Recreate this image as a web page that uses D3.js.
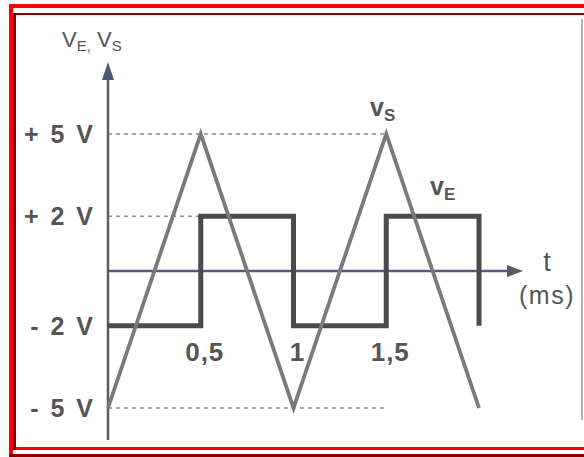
<!DOCTYPE html>
<html>
<head>
<meta charset="utf-8">
<script src="https://cdn.jsdelivr.net/npm/d3@7"></script>
<style>
  body { margin:0; background:#fff; }
  text { font-family: "Liberation Sans", Arial, sans-serif; fill:#555; }
</style>
</head>
<body>
<div id="chart"></div>
<script>
// time in ms, volts
var tVs = [0, 0.5, 1, 1.5, 2];
var vs  = [-5, 5, -5, 5, -5];
var tVe = [0, 0.5, 0.5, 1, 1, 1.5, 1.5, 2, 2];
var ve  = [-2, -2, 2, 2, -2, -2, 2, 2, -2];
var xTicks = [0.5, 1, 1.5];
var xTickLabels = ["0,5", "1", "1,5"];
var yTicks = [5, 2, -2, -5];
var yTickLabels = ["+ 5 V", "+ 2 V", "- 2 V", "- 5 V"];

var W = 584, H = 457;
var svg = d3.select("#chart").append("svg")
    .attr("width", W).attr("height", H);

//frame
svg.append("rect").attr("x",0).attr("y",0).attr("width",W).attr("height",H).attr("fill","#fff");
var red = "#ff0000", dark = "#800000";
svg.append("rect").attr("x",9).attr("y",4).attr("width",W-9).attr("height",4).attr("fill",red);
svg.append("rect").attr("x",9).attr("y",4).attr("width",4).attr("height",H-4).attr("fill",red);
svg.append("rect").attr("x",15).attr("y",447).attr("width",W-15).attr("height",3).attr("fill",red);
svg.append("rect").attr("x",15).attr("y",13).attr("width",W-15).attr("height",2).attr("fill",dark);
svg.append("rect").attr("x",13).attr("y",13).attr("width",3).attr("height",437).attr("fill",dark);
svg.append("rect").attr("x",9).attr("y",454).attr("width",W-9).attr("height",3).attr("fill",dark);
svg.append("line").attr("x1",582).attr("x2",582).attr("y1",19).attr("y2",420)
    .attr("stroke","#b0b0b0").attr("stroke-width",2);

//scales
var x = d3.scaleLinear().domain([0, 2]).range([108, 479]);
var y = d3.scaleLinear().domain([-5, 5]).range([408, 134]);

//dashed reference lines
var refs = [[5, 1.5], [2, 0.5], [-5, 1.5]];
svg.selectAll(".ref").data(refs).enter().append("line")
    .attr("class","ref")
    .attr("x1", x(0)).attr("x2", function(d){ return x(d[1]); })
    .attr("y1", function(d){ return y(d[0]); }).attr("y2", function(d){ return y(d[0]); })
    .attr("stroke","#8a8a8a").attr("stroke-width",1.6).attr("stroke-dasharray","4,4");

//axes
var x0 = x(0), y0 = y(0);
svg.append("line").attr("x1",x0).attr("x2",x0).attr("y1",78).attr("y2",440)
    .attr("stroke","#5c5c66").attr("stroke-width",2.5);
svg.append("path").attr("d","M"+x0+",62 L"+(x0-6)+",80 L"+(x0+6)+",80 Z").attr("fill","#4a5a75");
svg.append("line").attr("x1",x0).attr("x2",510).attr("y1",y0).attr("y2",y0)
    .attr("stroke","#5a5a78").attr("stroke-width",2.5);
svg.append("path").attr("d","M523,"+y0+" L507,"+(y0-6)+" L507,"+(y0+6)+" Z").attr("fill","#555a6a");

//signals
var line = d3.line().x(function(d){ return x(d[0]); }).y(function(d){ return y(d[1]); });
svg.append("path").datum(d3.zip(tVe, ve))
    .attr("d", line).attr("fill","none")
    .attr("stroke","#4d4a4d").attr("stroke-width",5).attr("stroke-linejoin","miter");
svg.append("path").datum(d3.zip(tVs, vs))
    .attr("d", line).attr("fill","none")
    .attr("stroke","#7a7a7a").attr("stroke-width",3.8);

//tick labels
svg.selectAll(".ylab").data(yTicks).enter().append("text")
    .attr("class","ylab")
    .attr("x", 94).attr("y", function(d){ return y(d) + 9; })
    .attr("text-anchor","end").attr("font-size",25).attr("font-weight","bold")
    .attr("letter-spacing",1).attr("word-spacing",3)
    .text(function(d,i){ return yTickLabels[i]; });
svg.selectAll(".xlab").data(xTicks).enter().append("text")
    .attr("class","xlab")
    .attr("x", function(d){ return x(d) + 4; }).attr("y", 361)
    .attr("text-anchor","middle").attr("font-size",26).attr("font-weight","bold")
    .attr("letter-spacing",1)
    .text(function(d,i){ return xTickLabels[i]; });

//axis titles
var yt = svg.append("text").attr("x",62).attr("y",47).attr("font-size",22);
yt.append("tspan").text("V");
yt.append("tspan").attr("font-size",15).attr("dy",4).text("E,");
yt.append("tspan").attr("dy",-4).text(" V");
yt.append("tspan").attr("font-size",15).attr("dy",4).text("S");

svg.append("text").attr("x",547).attr("y",271).attr("text-anchor","middle")
    .attr("font-size",27).text("t");
svg.append("text").attr("x",547).attr("y",304).attr("text-anchor","middle")
    .attr("font-size",25).attr("letter-spacing",1.5).text("(ms)");

//series labels
var ls = svg.append("text").attr("x",370).attr("y",116).attr("font-size",25).attr("font-weight","bold");
ls.append("tspan").text("v");
ls.append("tspan").attr("font-size",17).attr("dy",5).text("S");
var le = svg.append("text").attr("x",430).attr("y",195).attr("font-size",25).attr("font-weight","bold");
le.append("tspan").text("v");
le.append("tspan").attr("font-size",17).attr("dy",5).text("E");
</script>
</body>
</html>
